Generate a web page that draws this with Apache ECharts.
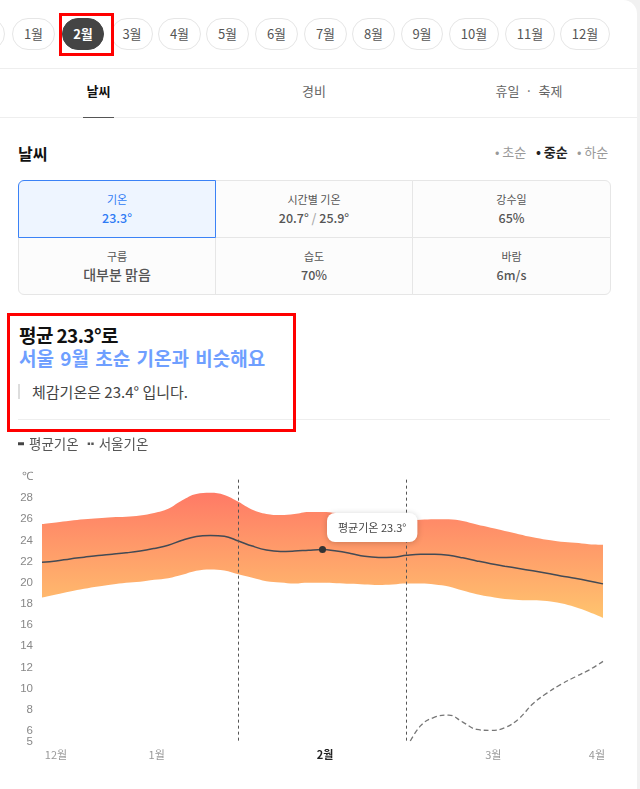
<!DOCTYPE html>
<html>
<head>
<meta charset="utf-8">
<title>날씨</title>
<script src="https://cdn.jsdelivr.net/npm/echarts@6/dist/echarts.min.js"></script>
<style>
  html,body{margin:0;padding:0;background:#f1f1f1;}
  body{width:640px;height:789px;overflow:hidden;position:relative;font-family:"Noto Sans CJK KR","Noto Sans",sans-serif;color:#333;}
  .panel{position:absolute;left:0;top:0;width:637px;height:789px;background:#fff;border-top-right-radius:14px;}
  .abs{position:absolute;white-space:nowrap;}
  .pill{position:absolute;top:18px;height:30px;line-height:30px;border:1px solid #e6e6e6;border-radius:16px;text-align:center;font-size:13px;color:#555;background:#fff;}
  .pill.on{background:#444;border-color:#444;color:#fff;font-weight:700;}
  .hr{position:absolute;height:1px;background:#eee;}
  .redbox{position:absolute;border:3px solid #f00;box-sizing:border-box;}
  .tab{position:absolute;top:81px;font-size:13px;line-height:20px;color:#666;transform:translateX(-50%);white-space:nowrap;}
  .cell{position:absolute;box-sizing:border-box;text-align:center;background:#fcfcfc;border:1px solid #e6e6e6;color:#555;}
  .cell .k{position:absolute;left:0;right:0;font-size:11px;line-height:16px;}
  .cell .v{position:absolute;left:0;right:0;font-size:12.5px;line-height:18px;font-weight:500;}
  #chart{position:absolute;left:0;top:430px;width:640px;height:359px;}
</style>
</head>
<body>
<div class="panel"></div>
<div id="top"></div>
<div class="hr" style="left:0;top:68px;width:637px"></div>
<div class="tab" style="left:98.5px;color:#111;font-weight:700">날씨</div>
<div class="tab" style="left:314px">경비</div>
<div class="tab" style="left:529px">휴일 &nbsp;·&nbsp; 축제</div>
<div class="hr" style="left:0;top:117px;width:637px"></div>
<div class="hr" style="left:83px;top:117px;width:31px;background:#555"></div>

<div class="abs" style="left:18px;top:142px;font-size:16px;line-height:22px;font-weight:700;color:#111">날씨</div>
<div class="abs" style="left:495px;top:143px;font-size:13px;line-height:18px;color:#999">• 초순</div>
<div class="abs" style="left:536px;top:143px;font-size:13px;line-height:18px;color:#222;font-weight:700">• 중순</div>
<div class="abs" style="left:577px;top:143px;font-size:13px;line-height:18px;color:#999">• 하순</div>

<div id="table"></div>

<div class="abs" style="left:19px;top:322px;font-size:19px;line-height:26px;font-weight:700;color:#111;letter-spacing:-0.6px">평균 23.3°로</div>
<div class="abs" style="left:19px;top:345px;font-size:19px;line-height:26px;font-weight:700;color:#6f9fff;word-spacing:2px">서울 9월 초순 기온과 비슷해요</div>
<div class="abs" style="left:18px;top:384px;width:2px;height:15px;background:#ddd"></div>
<div class="abs" style="left:32px;top:381px;font-size:15px;line-height:21px;color:#444">체감기온은 23.4° 입니다.</div>
<div class="hr" style="left:18px;top:419px;width:592px"></div>

<div class="redbox" style="left:59px;top:13px;width:55px;height:43px"></div>
<div class="redbox" style="left:7px;top:313px;width:289px;height:119px"></div>

<div id="chart"></div>

<script>
// 상단 월 버튼
var months = ['1월','2월','3월','4월','5월','6월','7월','8월','9월','10월','11월','12월'];
var pillLeft = [12,62,111,158,206,255,304,352,401,449,505,560];
var pillWidth = [43,42,42,43,43,43,43,43,42,50,50,50];
var activeMonth = '2월';

// 날씨 표
var cellKeys = ['기온','시간별 기온','강수일','구름','습도','바람'];
var cellVals = ['23.3°','20.7° <span style="color:#aaa">/</span> 25.9°','65%','대부분 맑음','70%','6m/s'];

// 차트 데이터 (x는 약 14px 간격, 0번 = 왼쪽 끝)
var xLabels = ['','12월','','','','','','','1월','','','','','','','','','','','','2월','','','','','','','','','','','','3월','','','','','','','','4월'];
var yTicks = [6,8,10,12,14,16,18,20,22,24,26,28,30];
var yBottomTick = [5]; // 6과 겹쳐서 숨겨지므로 축을 따로 둔다
var upperTemp = [25.55,25.7,25.86,26.0,26.1,26.2,26.25,26.37,26.6,27.0,27.8,28.4,28.5,28.3,27.65,26.9,26.5,26.4,26.5,26.7,26.7,26.6,26.4,26.2,26.0,25.9,25.85,25.95,26.0,26.0,25.83,25.5,25.2,24.9,24.6,24.3,24.06,23.87,23.78,23.65,23.6];
var avgTemp = [21.95,22.07,22.26,22.42,22.58,22.7,22.83,23.0,23.25,23.55,24.03,24.38,24.47,24.4,23.95,23.47,23.1,22.96,23.0,23.08,23.15,23.0,22.77,22.5,22.4,22.42,22.6,22.7,22.7,22.6,22.36,22.07,21.8,21.57,21.35,21.13,20.9,20.65,20.43,20.18,19.9];
var lowerTemp = [18.6,18.9,19.18,19.43,19.65,19.84,20.0,20.1,20.28,20.43,20.75,21.13,21.26,21.16,20.8,20.47,20.15,20.03,19.93,20.0,20.0,19.96,19.9,19.84,19.8,19.84,19.93,19.93,19.84,19.65,19.27,18.92,18.67,18.47,18.38,18.35,18.28,18.07,17.72,17.25,16.7];
var seoulTemp = [null,null,null,null,null,null,null,null,null,null,null,null,null,null,null,null,null,null,null,null,null,null,null,null,null,null,4.4,6.5,7.3,7.5,6.83,6.14,6.05,6.3,7.15,8.57,9.57,10.4,11.1,11.75,12.57];
var periodLines = [14,26];
var currentIdx = 20;
var currentLabel = '평균기온 23.3°';

var topHtml = '';
months.forEach(function(m,i){
  topHtml += '<div class="pill'+(m==activeMonth?' on':'')+'" style="left:'+pillLeft[i]+'px;width:'+(pillWidth[i]-2)+'px">'+m+'</div>';
});
// 왼쪽에 잘린 버튼
topHtml += '<div class="pill" style="left:-38px;width:41px"></div>';
document.getElementById('top').innerHTML = topHtml;

var colX = [18,215,412,610], rowY = [180,237,294];
var tableHtml = '';
cellKeys.forEach(function(k,i){
  var c = i%3, r = Math.floor(i/3);
  var st = 'left:'+colX[c]+'px;top:'+rowY[r]+'px;width:'+(colX[c+1]-colX[c]+1)+'px;height:'+(rowY[r+1]-rowY[r]+1)+'px;';
  if(i==0) st += 'background:#eef5ff;border-color:#3b82f6;color:#2f7bf5;z-index:2;';
  var vs = i==3 ? 'font-size:14px;top:26.5px' : 'top:28px';
  var radius = i==0?'border-top-left-radius:6px;':i==2?'border-top-right-radius:6px;':i==3?'border-bottom-left-radius:6px;':i==5?'border-bottom-right-radius:6px;':'';
  tableHtml += '<div class="cell" style="'+st+radius+'"><div class="k" style="top:10px">'+k+'</div><div class="v" style="'+vs+'">'+cellVals[i]+'</div></div>';
});
document.getElementById('table').innerHTML = tableHtml;

var chart = echarts.init(document.getElementById('chart'));

var bandData = upperTemp.map(function(v,i){ return v-lowerTemp[i]; });
var dotData = avgTemp.map(function(v,i){ return i==currentIdx ? v : null; });

function yAxisOf(ticks){
  return {
    type: 'value',
    position: 'left',
    min: 5, max: 30,
    splitLine: {show: false},
    axisLine: {show: false},
    axisTick: {show: false},
    axisLabel: {
      customValues: ticks,
      showMinLabel: true,
      showMaxLabel: true,
      margin: 9, fontSize: 11.5, color: '#888', fontFamily: 'Liberation Sans', padding: [2,0,0,0],
      formatter: function(v){ return v==30 ? '℃' : v; }
    }
  };
}

var option = {
  animation: false,
  legend: {
    left: 18, top: 7, padding: 0,
    itemWidth: 6, itemHeight: 3, itemGap: 9,
    textStyle: {fontSize: 13.5, color: '#555', padding: [0,0,0,0], fontFamily: '"Noto Sans CJK KR"'},
    data: [
      {name: '평균기온', icon: 'rect', itemStyle: {color: '#444'}},
      {name: '서울기온', icon: 'path://M0 0H4V4H0ZM6 0H10V4H6Z', itemStyle: {color: '#555'}}
    ]
  },
  grid: {left: 42, right: 37, top: 47, bottom: 47.5},
  xAxis: {
    type: 'category',
    boundaryGap: false,
    data: xLabels.map(function(t,i){
      if(t=='2월') return {value: t, textStyle: {color: '#222', fontWeight: 700, padding: [0,0,0,5]}};
      if(i==xLabels.length-1) return {value: t, textStyle: {align: 'right', padding: [0,-2,0,0]}};
      if(t=='1월' || t=='3월') return {value: t, textStyle: {padding: [0,0,0,5]}};
      return t;
    }),
    axisLine: {show: false},
    axisTick: {show: false},
    axisLabel: {
      interval: function(i){ return xLabels[i]!==''; },
      margin: 8, fontSize: 11, color: '#999', fontFamily: '"Noto Sans CJK KR"'
    }
  },
  yAxis: [yAxisOf(yTicks), yAxisOf(yBottomTick)],
  series: [
    {
      name: '하한', type: 'line', stack: 'temp', smooth: 0.4, symbol: 'none', silent: true,
      lineStyle: {opacity: 0}, data: lowerTemp
    },
    {
      name: '범위', type: 'line', stack: 'temp', smooth: 0.4, symbol: 'none', silent: true,
      lineStyle: {opacity: 0},
      areaStyle: {
        opacity: 1,
        color: new echarts.graphic.LinearGradient(0,0,0,1,[
          {offset: 0, color: '#ff7a66'},
          {offset: 1, color: '#ffc46e'}
        ])
      },
      data: bandData
    },
    {
      name: '평균기온', type: 'line', smooth: 0.4, symbol: 'none', z: 4,
      lineStyle: {color: '#434a54', width: 1.5},
      data: avgTemp,
      markLine: {
        silent: true, symbol: 'none', animation: false,
        label: {show: false},
        lineStyle: {color: '#555', width: 1, type: [3,3]},
        data: periodLines.map(function(idx){
          return [{xAxis: idx, yAxis: 29.75},{xAxis: idx, yAxis: 5}];
        })
      }
    },
    {
      name: '서울기온', type: 'line', smooth: 0.4, symbol: 'none', z: 4,
      clip: true,
      lineStyle: {color: '#777', width: 1.3, type: [5,3]},
      data: seoulTemp
    },
    {
      name: '현재', type: 'scatter', symbol: 'circle', symbolSize: 7, z: 6,
      itemStyle: {color: '#333', opacity: 1},
      data: dotData,
      label: {
        show: true,
        position: 'right',
        distance: 1,
        offset: [0,-22],
        formatter: currentLabel,
        fontSize: 11, color: '#444', lineHeight: 13,
        fontFamily: '"Noto Sans CJK KR"',
        backgroundColor: '#fff',
        borderRadius: 8,
        padding: [8,11,8,11],
        opacity: 1,
        shadowColor: 'rgba(0,0,0,0.2)', shadowBlur: 6, shadowOffsetY: 1
      }
    }
  ]
};

chart.setOption(option);
</script>
</body>
</html>
